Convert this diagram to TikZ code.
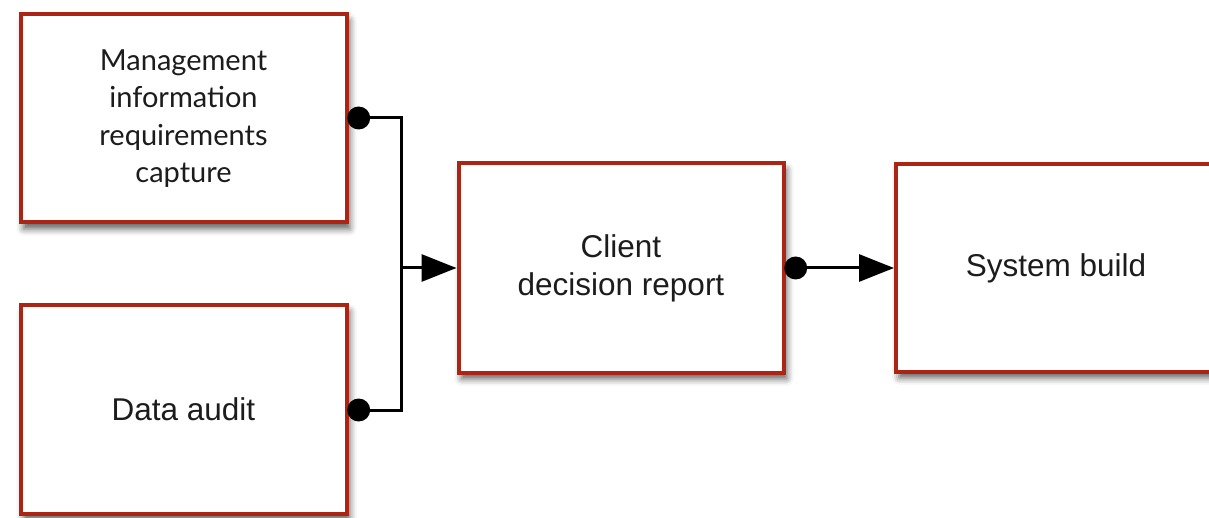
\documentclass[tikz,border=0pt]{standalone}
\usepackage{fontspec}
\setmainfont{Liberation Sans}
\newfontfamily\gillish{Lato}
\usetikzlibrary{shadows.blur,arrows.meta}
\definecolor{boxred}{RGB}{172,36,20}
\definecolor{txt}{RGB}{28,28,28}
\begin{document}
\begin{tikzpicture}[x=1pt,y=-1pt,
  box/.style={draw=boxred, line width=4pt, fill=white, rectangle, inner sep=0pt,
    text=txt, align=center, font=\fontsize{31.5}{38}\selectfont,
    blur shadow={shadow xshift=3pt, shadow yshift=-6pt, shadow blur radius=7pt, shadow opacity=65}},
  conn/.style={line width=3pt, black, line join=miter},
  dot/.style={circle, fill=black, inner sep=0pt, minimum size=23pt}]
\useasboundingbox (0,0) rectangle (1209,518);
\node[box, minimum width=326pt, minimum height=208pt, font=\gillish\fontsize{29}{37.5}\selectfont] (mgmt) at (183.5,118.5)
  {Management\\information\\requirements\\capture};
\node[box, minimum width=326pt, minimum height=208pt] (audit) at (183.5,409.5) {Data audit};
\node[box, minimum width=325pt, minimum height=209pt] (client) at (621,268) {Client\\decision report};
\node[box, minimum width=320pt, minimum height=207pt] (sys) at (1056,268) {System build};
\node[dot, anchor=west] (d1) at ([xshift=-1.5pt]mgmt.east |- 0,118) {};
\node[dot, anchor=west] (d2) at ([xshift=-1.5pt]audit.east |- 0,410) {};
\node[dot, anchor=west] (d3) at ([xshift=-1.5pt]client.east) {};
\coordinate (j) at (401,268);
\draw[conn] (d1.center) -| (j) |- (d2.center);
\draw[conn, -{Triangle[length=35pt,width=27pt]}] (j) -- (client.west);
\draw[conn, -{Triangle[length=35pt,width=27pt]}] (d3.center) -- (sys.west);
\end{tikzpicture}
\end{document}
